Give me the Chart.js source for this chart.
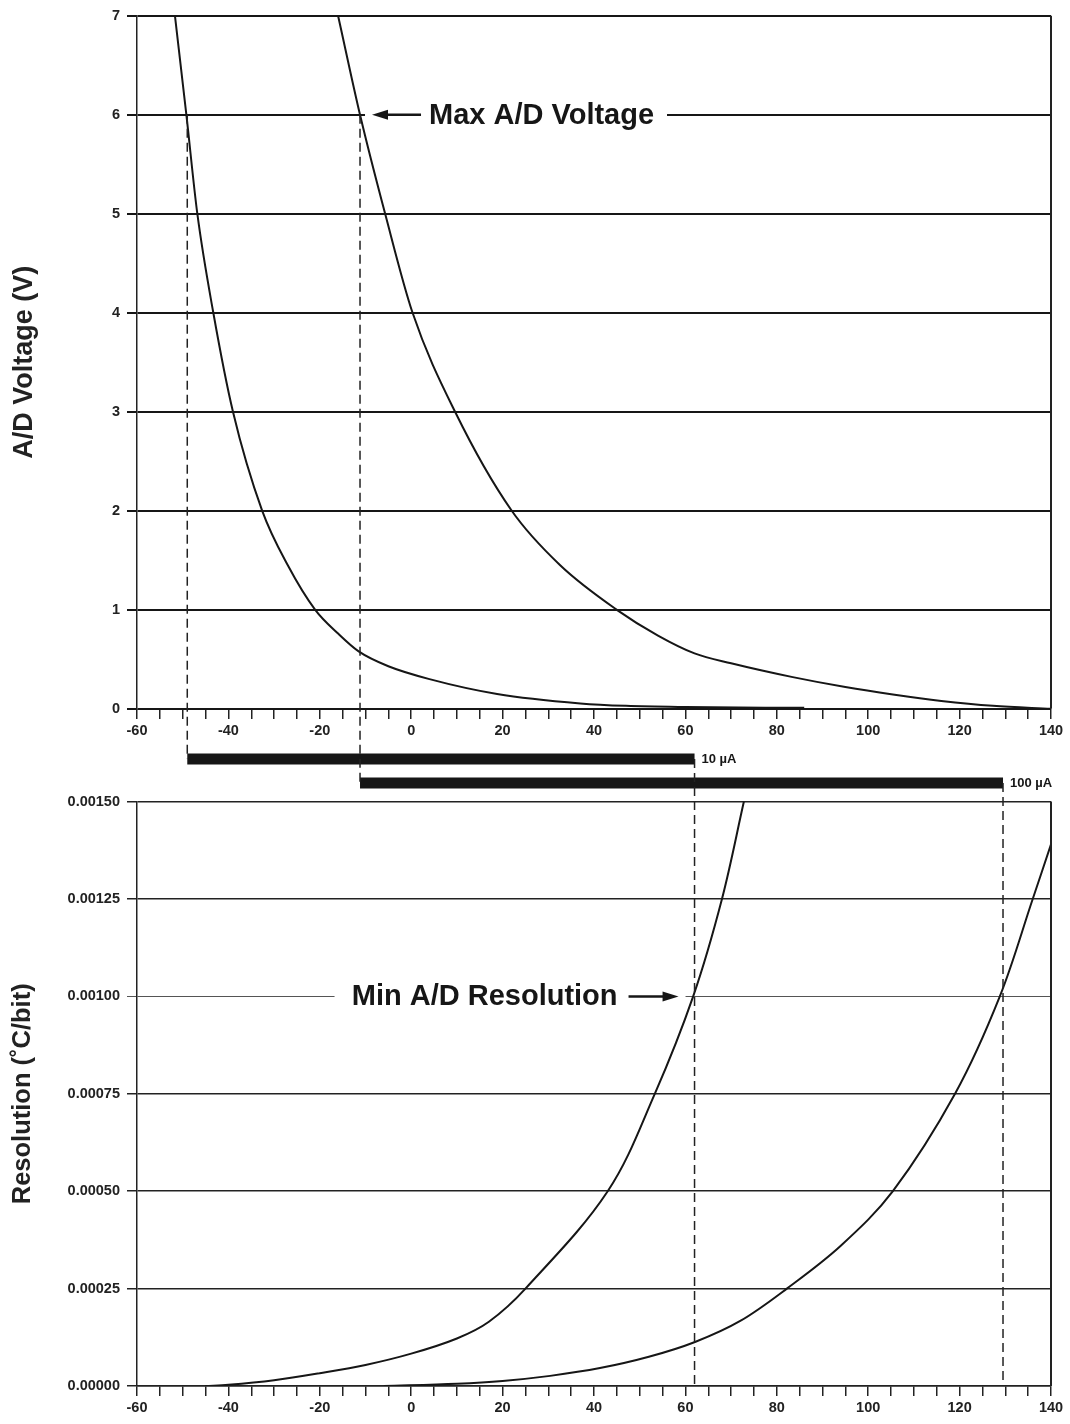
<!DOCTYPE html>
<html>
<head>
<meta charset="utf-8">
<script src="https://cdn.jsdelivr.net/npm/chart.js@4.4.1/dist/chart.umd.min.js"></script>
<style>
  html, body { margin: 0; padding: 0; background: #fff; }
  #wrap { position: relative; width: 1070px; height: 1424px; }
</style>
</head>
<body>
<div id="wrap"><canvas id="adChart"></canvas></div>
<script>
// values (temperature in °C)
var tempV10 = [-51.7, -49.2, -46.8, -43.3, -39, -32.6, -27, -21, -16, -11.5, -5, 4, 18.8, 37, 47, 60, 86];
var volt10 = [7, 6, 5, 4, 3, 2, 1.45, 1, 0.76, 0.58, 0.43, 0.30, 0.15, 0.055, 0.03, 0.018, 0.01];

var tempV100 = [-16, -11.2, -5.7, 0.3, 9.6, 22, 32.6, 45, 54, 62, 70, 83.5, 95, 105.4, 116, 127.3, 140];
var volt100 = [7, 6, 5, 4, 3, 2, 1.45, 1, 0.74, 0.56, 0.46, 0.32, 0.22, 0.145, 0.08, 0.03, 0];

var tempR10 = [-45, -40, -30, -20, -10, 0, 10, 17, 25, 43, 53.3, 61.7, 68, 72.8];
var res10 = [0, 0.000003, 0.000015, 0.000033, 0.000054, 0.000083, 0.000122, 0.000165, 0.00025, 0.0005, 0.00075, 0.001, 0.00125, 0.0015];

var tempR100 = [-6, 10, 20, 30.4, 41.3, 52, 62.1, 72, 82.2, 94, 105.4, 119, 128.8, 136, 140];
var res100 = [0, 0.000006, 0.000013, 0.000026, 0.000046, 0.000075, 0.000113, 0.000167, 0.00025, 0.00036, 0.0005, 0.00075, 0.001, 0.00125, 0.00139];

// usable temperature range for each current source
var currentLabels = ['10 µA', '100 µA'];
var currentRanges = [[-49, 62], [-11.2, 129.5]];

var maxVoltage = 6;
var minResolution = 0.001;

function pts(xs, ys) {
    return xs.map(function (x, i) { return { x: x, y: ys[i] }; });
}

var lineStyle = { borderColor: '#161616', borderWidth: 2, pointRadius: 0, fill: false, tension: 0.35 };

var datasets = [
    Object.assign({ data: pts(tempV10, volt10), yAxisID: 'yTop', cubicInterpolationMode: 'monotone' }, lineStyle),
    Object.assign({ data: pts(tempV100, volt100), yAxisID: 'yTop', cubicInterpolationMode: 'monotone' }, lineStyle),
    Object.assign({ data: pts(tempR10, res10), yAxisID: 'yBot' }, lineStyle),
    Object.assign({ data: pts(tempR100, res100), yAxisID: 'yBot' }, lineStyle)
];
currentRanges.forEach(function (r, i) {
    datasets.push({
        data: [{ x: r[0], y: i + 1 }, { x: r[1], y: i + 1 }],
        yAxisID: 'yMid',
        borderColor: '#161616', borderWidth: 11, borderCapStyle: 'butt',
        pointRadius: 0, fill: false
    });
});

Chart.defaults.font.family = "'Liberation Sans', Arial, sans-serif";
Chart.defaults.color = '#222';

var tickFont = { size: 14.5, weight: 'bold' };

function xAxis(position) {
    return {
        type: 'linear', axis: 'x', position: position, min: -60, max: 140,
        ticks: {
            stepSize: 5, autoSkip: false, maxRotation: 0, padding: 3, font: tickFont,
            callback: function (v) { return v % 20 === 0 ? v : ''; }
        },
        grid: { drawOnChartArea: false, drawTicks: true, tickLength: 10, color: '#222', lineWidth: 1.5 },
        border: { color: '#222', width: 1.5 }
    };
}

var xBottom = xAxis('bottom');
xBottom.afterFit = function (s) { s.height = 38; };

function fixWidth(s) { s.width = 137; }

function isMinRes(ctx) { return ctx.tick && Math.abs(ctx.tick.value - minResolution) < 1e-9; }

// the two text call-outs, gridline arrows, right frame and dashed guides
var guidePlugin = {
    id: 'guides',
    afterDatasetsDraw: function (chart) {
        var c = chart.ctx, s = chart.scales;
        var x = s.x, yT = s.yTop, yM = s.yMid, yB = s.yBot;
        c.save();

        // right frame edge
        var xr = x.getPixelForValue(140);
        c.strokeStyle = '#222';
        c.lineWidth = 2;
        c.beginPath();
        c.moveTo(xr, yT.getPixelForValue(7)); c.lineTo(xr, yT.getPixelForValue(0));
        c.moveTo(xr, yB.getPixelForValue(0.0015)); c.lineTo(xr, yB.getPixelForValue(0));
        c.stroke();

        // dashed guides
        c.setLineDash([9, 5]);
        c.lineWidth = 1.5;
        c.beginPath();
        currentRanges.forEach(function (r, i) {
            var px0 = x.getPixelForValue(r[0]), px1 = x.getPixelForValue(r[1]);
            var barY = yM.getPixelForValue(i + 1);
            c.moveTo(px0, yT.getPixelForValue(maxVoltage)); c.lineTo(px0, barY);
            c.moveTo(px1, barY); c.lineTo(px1, yB.getPixelForValue(0));
        });
        c.stroke();
        c.setLineDash([]);

        // bar labels
        c.fillStyle = '#161616';
        c.font = "bold 13px 'Liberation Sans', Arial, sans-serif";
        c.textBaseline = 'middle';
        c.textAlign = 'left';
        currentRanges.forEach(function (r, i) {
            c.fillText(currentLabels[i], x.getPixelForValue(r[1]) + 7, yM.getPixelForValue(i + 1));
        });

        function arrow(fromX, toX, y) {
            var dir = toX > fromX ? 1 : -1;
            c.lineWidth = 2.5;
            c.beginPath();
            c.moveTo(fromX, y); c.lineTo(toX - dir * 12, y);
            c.stroke();
            c.beginPath();
            c.moveTo(toX, y);
            c.lineTo(toX - dir * 16, y - 5);
            c.lineTo(toX - dir * 16, y + 5);
            c.closePath();
            c.fill();
        }

        c.font = "bold 29px 'Liberation Sans', Arial, sans-serif";

        // Max A/D Voltage
        var pT = x.getPixelForValue(currentRanges[1][0]);
        var yv = yT.getPixelForValue(maxVoltage);
        c.fillStyle = '#fff';
        c.fillRect(pT + 5, yv - 4, 302, 8);
        c.fillStyle = '#161616';
        c.strokeStyle = '#161616';
        arrow(pT + 61, pT + 12, yv);
        c.fillText('Max A/D Voltage', pT + 69, yv + 1);

        // Min A/D Resolution
        var pB = x.getPixelForValue(currentRanges[0][1]);
        var yr = yB.getPixelForValue(minResolution);
        c.fillStyle = '#fff';
        c.fillRect(pB - 360, yr - 4, 351, 8);
        c.fillStyle = '#161616';
        arrow(pB - 66, pB - 16, yr);
        c.textAlign = 'right';
        c.fillText('Min A/D Resolution', pB - 77, yr + 1);

        c.restore();
    }
};

new Chart(document.getElementById('adChart'), {
    type: 'line',
    data: { datasets: datasets },
    plugins: [guidePlugin],
    options: {
        responsive: true,
        maintainAspectRatio: false,
        animation: false,
        layout: { padding: { top: 10, right: 19, bottom: 0, left: 0 } },
        plugins: { legend: { display: false }, tooltip: { enabled: false } },
        scales: {
            x: xBottom,
            xTop: Object.assign(xAxis({ yTop: 0 }), { border: { display: false } }),
            yTop: {
                type: 'linear', position: 'left', stack: 'v', stackWeight: 695, weight: 3,
                min: 0, max: 7,
                ticks: { stepSize: 1, padding: 7, font: tickFont },
                grid: { color: '#161616', lineWidth: 2, tickLength: 10 },
                border: { color: '#222', width: 1.5 },
                title: { display: true, text: 'A/D Voltage (V)', font: { size: 27, weight: 'bold' }, padding: { top: 8, bottom: 0 } },
                afterFit: fixWidth
            },
            yMid: {
                type: 'linear', position: 'left', stack: 'v', stackWeight: 93, weight: 2,
                reverse: true, min: -1.1, max: 2.775,
                ticks: { display: false },
                grid: { display: false },
                border: { display: false },
                afterFit: fixWidth
            },
            yBot: {
                type: 'linear', position: 'left', stack: 'v', stackWeight: 586, weight: 1,
                min: 0, max: 0.0015,
                ticks: {
                    stepSize: 0.00025, padding: 7, font: tickFont,
                    callback: function (v) { return v.toFixed(5); }
                },
                grid: {
                    tickLength: 10,
                    color: function (ctx) { return isMinRes(ctx) ? '#555' : '#222'; },
                    lineWidth: function (ctx) { return isMinRes(ctx) ? 1 : 1.5; }
                },
                border: { color: '#222', width: 1.5 },
                title: { display: true, text: 'Resolution (˚C/bit)', font: { size: 25.5, weight: 'bold' }, padding: { top: 8, bottom: 0 } },
                afterFit: fixWidth
            }
        }
    }
});
</script>
</body>
</html>
